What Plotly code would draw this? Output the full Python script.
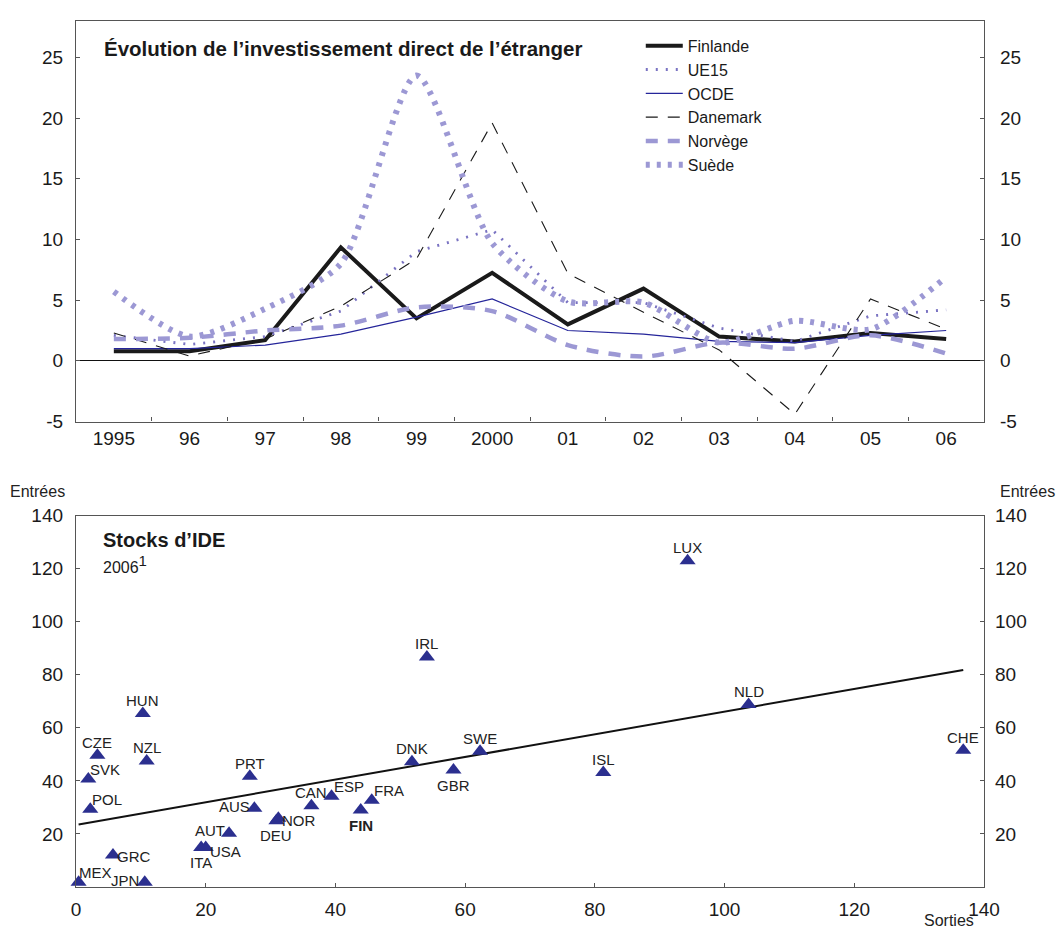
import plotly.graph_objects as go

# ---- Top panel: FDI inflows, % of GDP ----
years = ["1995", "96", "97", "98", "99", "2000", "01", "02", "03", "04", "05", "06"]
finlande = [0.8, 0.8, 1.7, 9.35, 3.5, 7.25, 3.0, 5.95, 2.0, 1.6, 2.3, 1.8]
ue15 = [2.1, 1.35, 2.0, 4.1, 9.0, 10.8, 4.8, 4.8, 2.7, 1.6, 3.7, 4.2]
ocde = [1.0, 1.0, 1.3, 2.2, 3.6, 5.1, 2.5, 2.2, 1.6, 1.5, 2.1, 2.5]
danemark = [2.3, 0.4, 1.8, 4.5, 8.4, 19.6, 7.2, 4.0, 0.9, -4.4, 5.1, 2.6]
norvege = [1.8, 1.9, 2.5, 2.9, 4.4, 4.1, 1.3, 0.35, 1.5, 1.0, 2.1, 0.6]
suede = [5.7, 2.0, 4.3, 8.0, 23.5, 9.7, 4.9, 4.8, 1.5, 3.3, 2.6, 6.9]
top_ticks = [-5, 0, 5, 10, 15, 20, 25]

# ---- Bottom panel: FDI stocks 2006, outward (x) vs inward (y) ----
countries = ["MEX", "JPN", "GRC", "SVK", "POL", "CZE", "HUN", "NZL", "PRT", "AUS",
             "AUT", "ITA", "USA", "DEU", "NOR", "CAN", "ESP", "FIN", "FRA", "DNK",
             "IRL", "GBR", "SWE", "LUX", "NLD", "ISL", "CHE"]
sorties = [0.4, 10.6, 5.7, 1.9, 2.2, 3.3, 10.3, 10.9, 26.8, 27.5,
           23.6, 19.3, 20.0, 30.9, 31.2, 36.3, 39.4, 43.9, 45.6, 51.8,
           54.1, 58.2, 62.3, 94.3, 103.7, 81.3, 136.8]
entrees = [1.8, 1.8, 12.1, 40.7, 29.3, 49.7, 65.4, 47.5, 41.7, 29.7,
           20.3, 14.9, 14.9, 25.0, 25.9, 30.6, 34.2, 29.0, 32.7, 47.2,
           86.7, 44.1, 51.2, 123.0, 68.8, 43.2, 51.5]
# Fitted trend line: intercept and slope
trend_intercept = 23.4
trend_slope = 0.427
bottom_xticks = [0, 20, 40, 60, 80, 100, 120, 140]
bottom_yticks = [20, 40, 60, 80, 100, 120, 140]

FONT = "Liberation Sans, Arial, Helvetica, sans-serif"
LAV = "#9c98d4"
NAVY = "#2b2f8f"
AXIS = "#555555"

fig = go.Figure()

series = [
    ("Finlande", finlande, dict(color="#1a1a1a", width=4), "linear"),
    ("UE15", ue15, dict(color="#7a73c2", width=2.8, dash="2px,8px"), "linear"),
    ("OCDE", ocde, dict(color="#25259a", width=1.2), "linear"),
    ("Danemark", danemark, dict(color="#1a1a1a", width=1.1, dash="12px,10px"), "linear"),
    ("Norvège", norvege, dict(color=LAV, width=4.5, dash="12px,10px", smoothing=0.8), "spline"),
    ("Suède", suede, dict(color=LAV, width=6, dash="4px,7px", smoothing=0.7), "spline"),
]
for name, vals, line, shape in series:
    fig.add_trace(go.Scatter(
        x=years, y=vals, name=name, mode="lines",
        line=dict(shape=shape, **line), xaxis="x", yaxis="y",
    ))

# right-hand tick labels for the top panel
fig.add_trace(go.Scatter(x=[years[0]], y=[0], mode="markers", opacity=0,
                         showlegend=False, hoverinfo="skip", xaxis="x", yaxis="y3"))

# trend line across the observed range of outward stocks
x_lo, x_hi = min(sorties), max(sorties)
fig.add_trace(go.Scatter(
    x=[x_lo, x_hi],
    y=[trend_intercept + trend_slope * x_lo, trend_intercept + trend_slope * x_hi],
    mode="lines", line=dict(color="#111111", width=2),
    showlegend=False, hoverinfo="skip", xaxis="x2", yaxis="y2",
))

fig.add_trace(go.Scatter(
    x=sorties, y=entrees, mode="markers", text=countries,
    marker=dict(symbol="triangle-up", size=14, color=NAVY),
    cliponaxis=False, showlegend=False, xaxis="x2", yaxis="y2",
))
fig.add_trace(go.Scatter(x=[0], y=[0], mode="markers", opacity=0,
                         showlegend=False, hoverinfo="skip", xaxis="x2", yaxis="y4"))

# label placement around each marker
offsets = {
    "n": (0, 13), "s": (0, -15), "e": (21, -2), "w": (-20, 2),
    "ne": (17, 10), "nw": (-19, 3), "se": (20, -4),
}
placement = {
    "MEX": "ne", "JPN": "w", "GRC": "e", "SVK": "ne", "POL": "ne", "CZE": "n",
    "HUN": "n", "NZL": "n", "PRT": "n", "AUS": "w", "AUT": "nw", "ITA": "s",
    "USA": "se", "DEU": "s", "NOR": "e", "CAN": "n", "ESP": "ne", "FIN": "s",
    "FRA": "ne", "DNK": "n", "IRL": "n", "GBR": "s", "SWE": "n", "LUX": "n",
    "NLD": "n", "ISL": "n", "CHE": "n",
}

annotations = []
for c, xv, yv in zip(countries, sorties, entrees):
    dx, dy = offsets[placement[c]]
    annotations.append(dict(
        x=xv, y=yv, xref="x2", yref="y2", text=f"<b>{c}</b>" if c == "FIN" else c,
        showarrow=False, xshift=dx, yshift=dy,
        font=dict(family=FONT, size=15, color="#222222"),
    ))

annotations += [
    dict(x=0.029, y=0.9678, xref="paper", yref="paper", xanchor="left", yanchor="middle",
         text="<b>Évolution de l’investissement direct de l’étranger</b>", showarrow=False,
         font=dict(family=FONT, size=20.5, color="#1a1a1a")),
    dict(x=0.027, y=0.4008, xref="paper", yref="paper", xanchor="left", yanchor="middle",
         text="<b>Stocks d’IDE</b>", showarrow=False,
         font=dict(family=FONT, size=20, color="#1a1a1a")),
    dict(x=0.027, y=0.3735, xref="paper", yref="paper", xanchor="left", yanchor="middle",
         text="2006<sup><span style='font-size:15px'>1</span></sup>", showarrow=False,
         font=dict(family=FONT, size=16, color="#1a1a1a")),
    dict(x=-0.0749, y=0.4565, xref="paper", yref="paper", xanchor="left", yanchor="middle",
         text="Entrées", showarrow=False, font=dict(family=FONT, size=16, color="#222222")),
    dict(x=1.0804, y=0.4565, xref="paper", yref="paper", xanchor="right", yanchor="middle",
         text="Entrées", showarrow=False, font=dict(family=FONT, size=16, color="#222222")),
    dict(x=0.991, y=-0.0385, xref="paper", yref="paper", xanchor="right", yanchor="middle",
         text="Sorties", showarrow=False, font=dict(family=FONT, size=16, color="#222222")),
]

tick_font = dict(family=FONT, size=19, color="#1a1a1a")
common = dict(showgrid=False, ticks="inside", ticklen=4, tickcolor=AXIS,
              linewidth=1.3, tickfont=tick_font)
top_ticktext = [str(v).replace("\u2212", "-") for v in top_ticks]

fig.update_layout(
    width=1063, height=931,
    margin=dict(l=76, r=79, t=11, b=40),
    paper_bgcolor="white", plot_bgcolor="white",
    font=dict(family=FONT, color="#1a1a1a"),
    showlegend=True,
    legend=dict(x=0.622, y=0.991, xanchor="left", yanchor="top", itemwidth=37,
                bgcolor="rgba(0,0,0,0)", font=dict(family=FONT, size=16, color="#1a1a1a"),
                tracegroupgap=0),
    xaxis=dict(domain=[0, 1], anchor="y", type="category", categoryorder="array",
               categoryarray=years, range=[-0.5, 11.5], tickson="boundaries",
               showline=True, mirror=True, linecolor=AXIS, ticklabelstandoff=0, **common),
    yaxis=dict(domain=[0.5375, 1], anchor="x", range=[-5, 28],
               tickvals=top_ticks, ticktext=top_ticktext, showline=True, mirror=True,
               linecolor=AXIS, zeroline=True, zerolinecolor="#111111", zerolinewidth=1.2,
               ticklabelstandoff=8, **common),
    yaxis3=dict(overlaying="y", side="right", anchor="x", range=[-5, 28],
                tickvals=top_ticks, ticktext=top_ticktext, showline=False, zeroline=False,
                ticklabelstandoff=15, **common),
    xaxis2=dict(domain=[0, 1], anchor="y2", range=[0, 140], tickvals=bottom_xticks,
                showline=True, mirror=True, linecolor=AXIS, zeroline=False,
                ticklabelstandoff=5, **common),
    yaxis2=dict(domain=[0, 0.4289], anchor="x2", range=[0, 140],
                tickvals=bottom_yticks, showline=True, mirror=True, linecolor=AXIS,
                zeroline=False, ticklabelstandoff=8, **common),
    yaxis4=dict(overlaying="y2", side="right", anchor="x2", range=[0, 140],
                tickvals=bottom_yticks, showline=False, zeroline=False,
                ticklabelstandoff=10, **common),
    annotations=annotations,
)

fig.write_html("out.html")
